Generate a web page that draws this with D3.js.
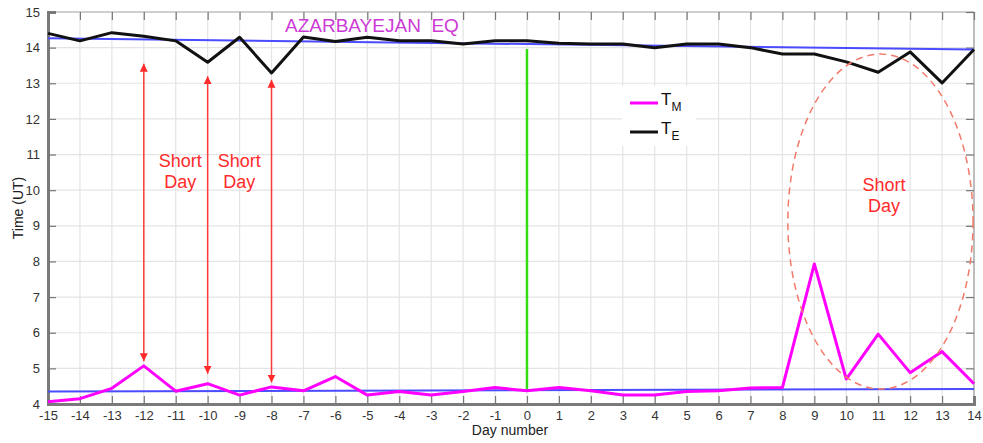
<!DOCTYPE html>
<html>
<head>
<meta charset="utf-8">
<script src="https://cdn.jsdelivr.net/npm/d3@7"></script>
<style>
  body { margin: 0; background: #fff; }
  svg { font-family: "Liberation Sans", Arial, sans-serif; }
</style>
</head>
<body>
<div id="chart"></div>
<script>
// day numbers relative to the earthquake
var days = [-15,-14,-13,-12,-11,-10,-9,-8,-7,-6,-5,-4,-3,-2,-1,0,1,2,3,4,5,6,7,8,9,10,11,12,13,14];
// T_M (morning) and T_E (evening) times, UT
var tM = [4.06,4.15,4.44,5.07,4.36,4.57,4.25,4.48,4.37,4.77,4.25,4.35,4.25,4.35,4.46,4.37,4.46,4.37,4.25,4.25,4.35,4.37,4.45,4.46,7.93,4.7,5.96,4.88,5.47,4.57];
var tE = [14.4,14.19,14.42,14.32,14.19,13.59,14.29,13.29,14.3,14.17,14.29,14.19,14.19,14.1,14.19,14.19,14.12,14.1,14.1,14.0,14.1,14.1,14.0,13.82,13.82,13.6,13.31,13.88,13.01,13.95];
// trend lines (value at first and last day)
var trendM = [4.35, 4.42];
var trendE = [14.26, 13.95];
var yTicks = [4,5,6,7,8,9,10,11,12,13,14,15];
// short-day arrows: day, top value, bottom value
var arrows = [
  {day: -12, top: 13.55, bottom: 5.2},
  {day: -10, top: 13.2, bottom: 4.85},
  {day: -8, top: 13.1, bottom: 4.6}
];
var quakeLine = {day: 0, top: 13.96, bottom: 4.37};
// ellipse around the post-quake short days
var ellipse = {day: 11.07, value: 9.12, rDays: 2.9, rValue: 4.7};
// "Short Day" label anchors
var labels = [{day: -10.86, value: 10.66}, {day: -9.01, value: 10.66}, {day: 11.18, value: 9.99}];

var W = 983, H = 443;
var m = {left: 48, right: 9, top: 12, bottom: 39};

var svg = d3.select('#chart').append('svg')
  .attr('width', W).attr('height', H);

var x = d3.scaleLinear().domain([-15, 14]).range([m.left, W - m.right]);
var y = d3.scaleLinear().domain([4, 15]).range([H - m.bottom, m.top]);

// grid
var grid = svg.append('g');
grid.selectAll('.gx').data(days).enter().append('line')
  .attr('x1', function(d){ return x(d); }).attr('x2', function(d){ return x(d); })
  .attr('y1', y(4)).attr('y2', y(15))
  .attr('stroke', '#e4e4e4').attr('stroke-width', 1.2);
grid.selectAll('.gy').data(yTicks).enter().append('line')
  .attr('x1', x(-15)).attr('x2', x(14))
  .attr('y1', function(d){ return y(d); }).attr('y2', function(d){ return y(d); })
  .attr('stroke', '#e4e4e4').attr('stroke-width', 1.2);

// frame top/right
svg.append('line').attr('x1', x(-15)).attr('x2', x(14)).attr('y1', y(15)).attr('y2', y(15))
  .attr('stroke', '#cfcfcf').attr('stroke-width', 2);
svg.append('line').attr('x1', x(14)).attr('x2', x(14)).attr('y1', y(15)).attr('y2', y(4))
  .attr('stroke', '#bdbdbd').attr('stroke-width', 2);

// axes with inward ticks
var fmt = function(d){ return String(d); };
var xAxis = d3.axisBottom(x).tickValues(days).tickSize(-8).tickPadding(7).tickFormat(fmt);
var yAxis = d3.axisLeft(y).tickValues(yTicks).tickSize(-8).tickPadding(8).tickFormat(fmt);
var gx = svg.append('g').attr('transform', 'translate(0,' + y(4) + ')').call(xAxis);
var gy = svg.append('g').attr('transform', 'translate(' + x(-15) + ',0)').call(yAxis);
var gxt = svg.append('g').attr('transform', 'translate(0,' + y(15) + ')')
  .call(d3.axisTop(x).tickValues(days).tickSize(-8).tickFormat(''));
var gyr = svg.append('g').attr('transform', 'translate(' + x(14) + ',0)')
  .call(d3.axisRight(y).tickValues(yTicks).tickSize(-8).tickFormat(''));
[gx, gy, gxt, gyr].forEach(function(g){
  g.selectAll('.tick line').attr('stroke', '#777').attr('stroke-width', 1.2);
  g.selectAll('.tick text').attr('fill', '#333').style('font-size', '13px');
});
gx.select('.domain').attr('stroke', '#7a7a7a').attr('stroke-width', 3);
gy.select('.domain').attr('stroke', '#7a7a7a').attr('stroke-width', 3);
gxt.select('.domain').remove();
gyr.select('.domain').remove();

svg.append('text').attr('x', 510).attr('y', 435).attr('text-anchor', 'middle')
  .style('font-size', '14px').attr('fill', '#222').text('Day number');
svg.append('text').attr('transform', 'translate(23,208) rotate(-90)').attr('text-anchor', 'middle')
  .style('font-size', '14px').attr('fill', '#222').text('Time (UT)');

// trend lines
svg.append('line').attr('x1', x(-15)).attr('x2', x(14))
  .attr('y1', y(trendE[0])).attr('y2', y(trendE[1]))
  .attr('stroke', '#4b4bff').attr('stroke-width', 2);
svg.append('line').attr('x1', x(-15)).attr('x2', x(14))
  .attr('y1', y(trendM[0])).attr('y2', y(trendM[1]))
  .attr('stroke', '#4b4bff').attr('stroke-width', 2);

// earthquake day marker
svg.append('line').attr('x1', x(quakeLine.day)).attr('x2', x(quakeLine.day))
  .attr('y1', y(quakeLine.top)).attr('y2', y(quakeLine.bottom))
  .attr('stroke', '#33dd11').attr('stroke-width', 2.5);

// data lines
var line = function(vals) {
  return d3.line().x(function(d, i){ return x(days[i]); }).y(function(d){ return y(d); })(vals);
};
svg.append('path').attr('d', line(tE)).attr('fill', 'none')
  .attr('stroke', '#111').attr('stroke-width', 3).attr('stroke-linejoin', 'round');
svg.append('path').attr('d', line(tM)).attr('fill', 'none')
  .attr('stroke', '#ff00ff').attr('stroke-width', 3).attr('stroke-linejoin', 'round');

// double arrows
var defs = svg.append('defs');
defs.append('marker').attr('id', 'ah').attr('viewBox', '0 0 10 10')
  .attr('refX', 10).attr('refY', 5).attr('markerWidth', 8).attr('markerHeight', 10)
  .attr('markerUnits', 'userSpaceOnUse').attr('orient', 'auto-start-reverse')
  .append('path').attr('d', 'M0,0 L10,5 L0,10 z').attr('fill', '#ff2a2a');
svg.selectAll('.arr').data(arrows).enter().append('line')
  .attr('x1', function(d){ return x(d.day); }).attr('x2', function(d){ return x(d.day); })
  .attr('y1', function(d){ return y(d.top); }).attr('y2', function(d){ return y(d.bottom); })
  .attr('stroke', '#ff3a3a').attr('stroke-width', 1.5)
  .attr('marker-start', 'url(#ah)').attr('marker-end', 'url(#ah)');

// ellipse
svg.append('ellipse')
  .attr('cx', x(ellipse.day)).attr('cy', y(ellipse.value))
  .attr('rx', x(ellipse.day + ellipse.rDays) - x(ellipse.day))
  .attr('ry', y(ellipse.value - ellipse.rValue) - y(ellipse.value))
  .attr('fill', 'none').attr('stroke', '#f27a6a').attr('stroke-width', 1.5)
  .attr('stroke-dasharray', '7,5');

// short day labels
labels.forEach(function(l){
  var t = svg.append('text').attr('text-anchor', 'middle').attr('fill', '#ff2a2a')
    .style('font-size', '18px');
  t.append('tspan').attr('x', x(l.day)).attr('y', y(l.value)).text('Short');
  t.append('tspan').attr('x', x(l.day)).attr('dy', 21).text('Day');
});

// title
svg.append('text').attr('x', 285).attr('y', 32).attr('fill', '#cc3ad6')
  .style('font-size', '19px').attr('xml:space', 'preserve').text('AZARBAYEJAN  EQ');

// legend
var lg = svg.append('g').attr('transform', 'translate(622,86)');
lg.append('rect').attr('width', 74).attr('height', 60).attr('fill', '#fff');
var items = [{name: 'M', color: '#ff00ff'}, {name: 'E', color: '#111'}];
items.forEach(function(it, i){
  var yy = 17 + i * 29;
  lg.append('line').attr('x1', 8).attr('x2', 36).attr('y1', yy).attr('y2', yy)
    .attr('stroke', it.color).attr('stroke-width', 3);
  var t = lg.append('text').attr('x', 39).attr('y', yy + 2).attr('fill', '#111').style('font-size', '17px');
  t.append('tspan').text('T');
  t.append('tspan').attr('dy', 6).style('font-size', '12px').text(it.name);
});
</script>
</body>
</html>
